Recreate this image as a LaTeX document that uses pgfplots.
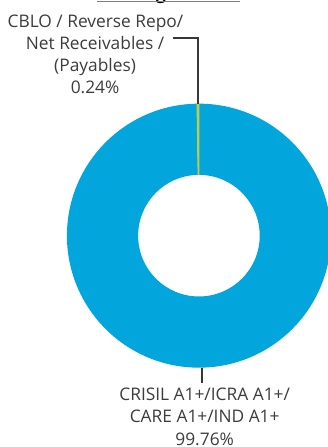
\documentclass[border=0pt]{standalone}
\usepackage{pgfplots}
\usepackage{pgfplotstable}
\pgfplotsset{compat=1.18}
\usepackage{fontspec}
\setmainfont{Open Sans}
\definecolor{ringblue}{RGB}{2,165,220}
\definecolor{ringgreen}{RGB}{190,205,75}
\definecolor{txt}{RGB}{60,60,60}
\definecolor{lead}{RGB}{55,55,55}

\pgfplotstableread{
label value
cblo 0.24
crisil 99.76
}\ratingdata

\pgfplotstablegetelem{0}{value}\of\ratingdata
\let\va\pgfplotsretval
\pgfplotstablegetelem{1}{value}\of\ratingdata
\let\vb\pgfplotsretval
\pgfmathsetmacro\angA{90+3.6*\va}
\pgfmathsetmacro\angB{\angA+3.6*\vb}

\begin{document}
\begin{tikzpicture}
\path[use as bounding box] (0,0) rectangle (246pt,335.25pt);
\begin{axis}[
  at={(0,0)}, anchor=south west,
  x=1pt, y=1pt, xmin=0, xmax=246, ymin=0, ymax=335.25,
  scale only axis, hide axis, clip=false,
]
% blue ring (CRISIL ...)
\fill[ringblue] ([shift={(\angA:99pt)}]axis cs:149.2,158.5)
   arc[start angle=\angA, end angle=\angB, radius=99pt]
   -- ([shift={(\angB:45.6pt)}]axis cs:149.2,158.5)
   arc[start angle=\angB, end angle=\angA, radius=45.6pt] -- cycle;
% green sliver (CBLO ...)
\filldraw[ringgreen, line width=0.6pt] ([shift={(90:99pt)}]axis cs:149.2,158.5)
   arc[start angle=90, end angle=\angA, radius=99pt]
   -- ([shift={(\angA:45.6pt)}]axis cs:149.2,158.5)
   arc[start angle=\angA, end angle=90, radius=45.6pt] -- cycle;
% leader lines
\draw[lead, line width=1.1pt] (axis cs:148.6,257.5) -- (axis cs:148.6,306.75) -- (axis cs:129.75,306.75);
\draw[lead, line width=1.1pt] (axis cs:151.5,59.5) -- (axis cs:151.5,48);
% labels
\begin{scope}[every node/.style={font=\fontsize{13}{16}\selectfont, text=txt, inner sep=0pt, anchor=base}]
\node at (axis cs:71.6,314.25) {CBLO / Reverse Repo/};
\node at (axis cs:71.3,298) {Net Receivables /};
\node at (axis cs:71.3,281.5) {(Payables)};
\node at (axis cs:71.3,265.25) {0.24\%};
\node at (axis cs:153.5,34.5) {CRISIL A1+/ICRA A1+/};
\node at (axis cs:153.5,18) {CARE A1+/IND A1+};
\node at (axis cs:153.5,1.5) {99.76\%};
\end{scope}
% cut-off title
\node[font=\bfseries\fontsize{13}{16}\selectfont, text=black, anchor=base, inner sep=0pt] at (axis cs:126.4,335.9) {Rating Profile};
\draw[gray, line width=0.9pt] (axis cs:72.75,334.1) -- (axis cs:180,334.1);
\end{axis}
\end{tikzpicture}
\end{document}
